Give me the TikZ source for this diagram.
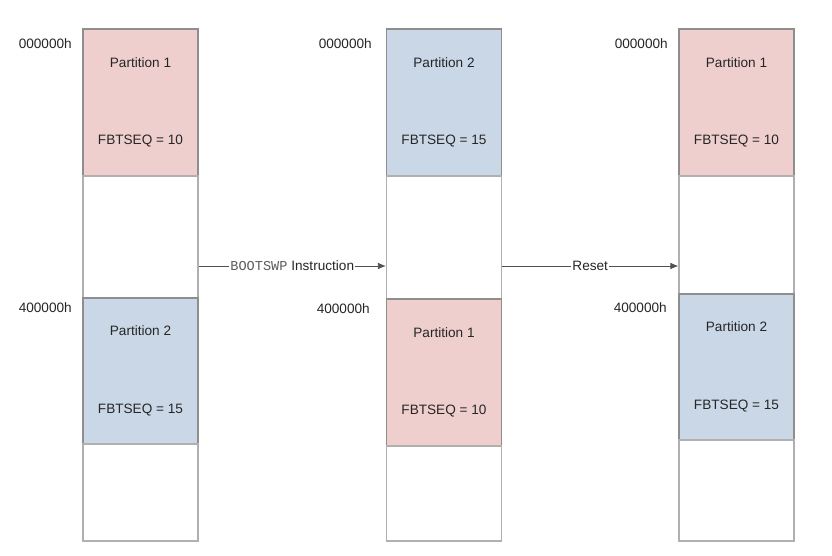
\documentclass[tikz,border=0pt]{standalone}
\usepackage{fontspec}
\setmainfont{Liberation Sans}
\newfontfamily\codefont{Liberation Mono}
\usepackage{xcolor}
\usetikzlibrary{arrows.meta}

\definecolor{partred}{HTML}{EFCFCE}
\definecolor{partblue}{HTML}{C9D7E7}
\definecolor{edgegray}{HTML}{8E8E8E}
\definecolor{textgray}{HTML}{262626}

\tikzset{
    partbox/.style={draw=edgegray, line width=0.9pt, rectangle, minimum width=115*0.75pt, align=center, text=textgray, font=\fontsize{10.2}{12}\selectfont},
    gapbox/.style={draw=edgegray!70, line width=0.9pt, rectangle, minimum width=115*0.75pt},
    addr/.style={anchor=east, text=textgray, font=\fontsize{10.2}{12}\selectfont, inner sep=0pt},
    flow/.style={draw=textgray!80, line width=0.6pt, ->, >={Latex[length=6pt,width=5pt]}},
    flowlabel/.style={fill=white, inner sep=1pt, text=textgray, font=\fontsize{10.2}{12}\selectfont}
}

\begin{document}
\begin{tikzpicture}[x=0.75pt, y=-0.75pt]
    \useasboundingbox (0,0) rectangle (832,556);

    % Before the swap
    \node[partbox, fill=partred, minimum height=147*0.75pt] (a1) at (140.5,102.5) {Partition 1\\[46pt]FBTSEQ = 10};
    \node[gapbox, minimum height=122*0.75pt] (a2) at (140.5,237) {};
    \node[partbox, fill=partblue, minimum height=146*0.75pt] (a3) at (140.5,371) {Partition 2\\[46pt]FBTSEQ = 15};
    \node[gapbox, minimum height=97*0.75pt] (a4) at (140.5,492.5) {};

    % After BOOTSWP
    \node[partbox, fill=partblue, minimum height=147*0.75pt] (b1) at (444,102.5) {Partition 2\\[46pt]FBTSEQ = 15};
    \node[gapbox, minimum height=123*0.75pt] (b2) at (444,237.5) {};
    \node[partbox, fill=partred, minimum height=147*0.75pt] (b3) at (444,372.5) {Partition 1\\[46pt]FBTSEQ = 10};
    \node[gapbox, minimum height=95*0.75pt] (b4) at (444,493.5) {};

    % After reset
    \node[partbox, fill=partred, minimum height=147*0.75pt] (c1) at (736.5,102.5) {Partition 1\\[46pt]FBTSEQ = 10};
    \node[gapbox, minimum height=118*0.75pt] (c2) at (736.5,235) {};
    \node[partbox, fill=partblue, minimum height=146*0.75pt] (c3) at (736.5,367) {Partition 2\\[46pt]FBTSEQ = 15};
    \node[gapbox, minimum height=101*0.75pt] (c4) at (736.5,490.5) {};

    % Addresses
    \node[addr] (a1addr) at (72,44) {000000h};
    \node[addr] (a3addr) at (72,308) {400000h};
    \node[addr] (b1addr) at (372,44) {000000h};
    \node[addr] (b3addr) at (370,309) {400000h};
    \node[addr] (c1addr) at (668,44) {000000h};
    \node[addr] (c3addr) at (667,308) {400000h};

    % Arrows
    \coordinate (row) at (0,266);
    \draw[flow] (a2.east |- row) -- (b2.west |- row) node[midway, flowlabel] {{\codefont\color{textgray!75}BOOTSWP} Instruction};
    \draw[flow] (b2.east |- row) -- (c2.west |- row) node[midway, flowlabel] {Reset};
\end{tikzpicture}
\end{document}
